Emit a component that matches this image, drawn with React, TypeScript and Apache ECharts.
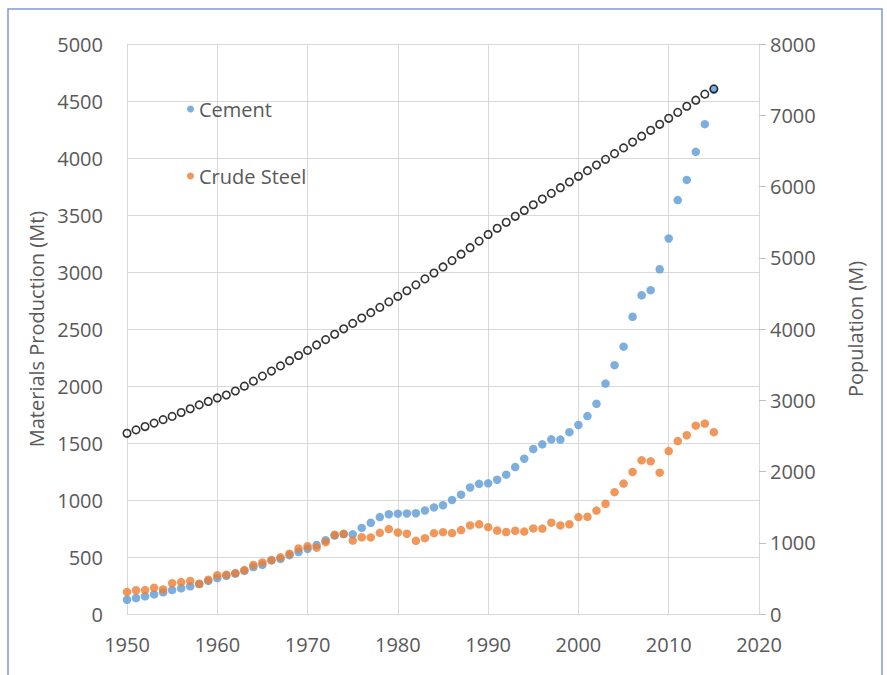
import React, { useEffect, useRef } from "react";
import * as echarts from "echarts";

const years = [
  1950, 1951, 1952, 1953, 1954, 1955, 1956, 1957, 1958, 1959,
  1960, 1961, 1962, 1963, 1964, 1965, 1966, 1967, 1968, 1969,
  1970, 1971, 1972, 1973, 1974, 1975, 1976, 1977, 1978, 1979,
  1980, 1981, 1982, 1983, 1984, 1985, 1986, 1987, 1988, 1989,
  1990, 1991, 1992, 1993, 1994, 1995, 1996, 1997, 1998, 1999,
  2000, 2001, 2002, 2003, 2004, 2005, 2006, 2007, 2008, 2009,
  2010, 2011, 2012, 2013, 2014, 2015,
];

const cement = [
  125, 140, 155, 172, 190, 210, 225, 243, 263, 290,
  315, 335, 355, 378, 412, 432, 470, 483, 516, 544,
  572, 605, 647, 688, 701, 699, 755, 800, 850, 875,
  880, 882, 884, 908, 935, 954, 1000, 1047, 1110, 1142,
  1146, 1178, 1222, 1289, 1362, 1447, 1488, 1532, 1530, 1595,
  1658, 1736, 1844, 2021, 2183, 2345, 2607, 2796, 2841, 3024,
  3294, 3631, 3808, 4054, 4297, 4598,
];

const crudeSteel = [
  193, 208, 210, 230, 215, 270, 280, 290, 265, 300,
  340, 345, 358, 385, 430, 452, 473, 497, 529, 575,
  595, 582, 630, 695, 703, 644, 673, 672, 712, 745,
  715, 704, 642, 665, 709, 718, 710, 736, 777, 787,
  762, 732, 719, 730, 723, 751, 749, 801, 777, 787,
  850, 853, 907, 967, 1069, 1144, 1246, 1348, 1339, 1240,
  1429, 1517, 1568, 1652, 1670, 1595,
];

const population = [
  2536, 2584, 2631, 2679, 2728, 2773, 2828, 2881, 2935, 2983,
  3032, 3074, 3130, 3198, 3268, 3339, 3410, 3482, 3555, 3628,
  3700, 3776, 3851, 3926, 4003, 4079, 4154, 4229, 4304, 4381,
  4458, 4537, 4620, 4703, 4786, 4871, 4960, 5050, 5141, 5234,
  5327, 5414, 5498, 5582, 5664, 5744, 5824, 5904, 5983, 6063,
  6143, 6222, 6302, 6381, 6461, 6542, 6624, 6706, 6789, 6873,
  6957, 7041, 7126, 7211, 7296, 7370,
];

const FONT = "'Open Sans', 'Noto Sans', sans-serif";
const GREY = "#595959";
const GRID = "#d9d9d9";
const plain = (v: number) => String(v);

export default function App() {
  const ref = useRef<HTMLDivElement>(null);
  useEffect(() => {
    if (!ref.current) return;
    const chart = echarts.init(ref.current, undefined, { renderer: "svg" });
    const pairs = (vals: number[]) => years.map((y, i) => [y, vals[i]]);
    chart.setOption({
      animation: false,
      backgroundColor: "#ffffff",
      textStyle: { fontFamily: FONT },
      grid: { left: 127, right: 128, top: 44, bottom: 61 },
      graphic: [
        {
          type: "rect",
          shape: { x: 8, y: 9, width: 874, height: 700 },
          style: { fill: "none", stroke: "#7f9bd8", lineWidth: 1.5 },
          silent: true,
        },
      ],
      legend: {
        data: ["Cement", "Crude Steel"],
        orient: "vertical",
        left: 182,
        top: 94,
        itemGap: 47,
        icon: "circle",
        itemWidth: 7,
        itemHeight: 7,
        textStyle: { fontSize: 20, color: GREY, fontFamily: FONT },
      },
      xAxis: {
        type: "value",
        min: 1950,
        max: 2020,
        interval: 10,
        axisLine: { show: true, lineStyle: { color: GRID } },
        axisTick: { show: false },
        axisLabel: { color: GREY, fontSize: 20, margin: 20, fontFamily: FONT, formatter: plain },
        splitLine: { show: true, lineStyle: { color: GRID } },
      },
      yAxis: [
        {
          type: "value",
          min: 0,
          max: 5000,
          interval: 500,
          name: "Materials Production (Mt)",
          nameLocation: "middle",
          nameGap: 68,
          nameRotate: 90,
          nameTextStyle: { fontSize: 20, color: GREY, fontFamily: FONT },
          axisLine: { show: true, lineStyle: { color: GRID } },
          axisTick: { show: false },
          axisLabel: { color: GREY, fontSize: 20, margin: 24, fontFamily: FONT, formatter: plain },
          splitLine: { show: true, lineStyle: { color: GRID } },
        },
        {
          type: "value",
          min: 0,
          max: 8000,
          interval: 1000,
          position: "right",
          name: "Population (M)",
          nameLocation: "middle",
          nameGap: 86,
          nameRotate: 90,
          nameTextStyle: { fontSize: 20, color: GREY, fontFamily: FONT },
          axisLine: { show: true, lineStyle: { color: GRID } },
          axisTick: { show: true, length: 7, inside: false, lineStyle: { color: "#bfbfbf" } },
          axisLabel: { color: GREY, fontSize: 20, margin: 11, fontFamily: FONT, formatter: plain },
          splitLine: { show: false },
        },
      ],
      series: [
        {
          name: "Cement",
          type: "scatter",
          yAxisIndex: 0,
          symbol: "circle",
          symbolSize: 8.5,
          itemStyle: { color: "#5b9bd5" },
          data: pairs(cement),
          z: 2,
        },
        {
          name: "Crude Steel",
          type: "scatter",
          yAxisIndex: 0,
          symbol: "circle",
          symbolSize: 8.5,
          itemStyle: { color: "#ed7d31" },
          data: pairs(crudeSteel),
          z: 3,
        },
        {
          name: "Population",
          type: "scatter",
          yAxisIndex: 1,
          symbol: "circle",
          symbolSize: 7.5,
          itemStyle: { color: "rgba(0,0,0,0)", borderColor: "#000000", borderWidth: 1.6 },
          data: pairs(population),
          z: 4,
        },
      ],
    });
    return () => chart.dispose();
  }, []);
  return (
    <div
      ref={ref}
      style={{ position: "absolute", left: 0, top: 0, width: 887, height: 675 }}
    />
  );
}
